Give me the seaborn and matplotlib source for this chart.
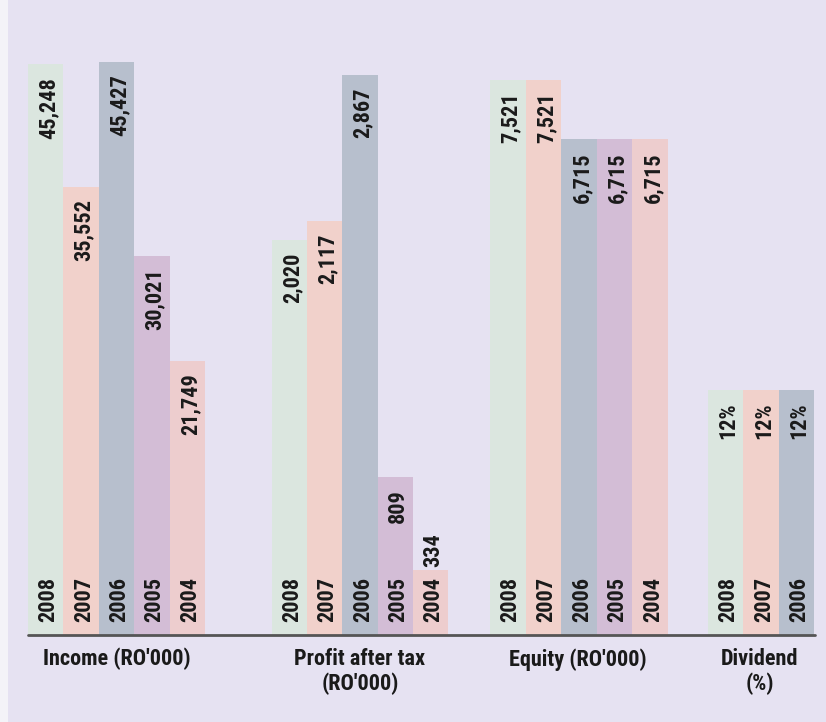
import numpy as np
import pandas as pd
import seaborn as sns
import matplotlib.pyplot as plt

# data
years = ["2008", "2007", "2006", "2005", "2004"]
income = [45248, 35552, 45427, 30021, 21749]
profit = [2020, 2117, 2867, 809, 334]
equity = [7521, 7521, 6715, 6715, 6715]
dividend_years = ["2008", "2007", "2006"]
dividend = [12, 12, 12]

income_labels = ["45,248", "35,552", "45,427", "30,021", "21,749"]
profit_labels = ["2,020", "2,117", "2,867", "809", "334"]
equity_labels = ["7,521", "7,521", "6,715", "6,715", "6,715"]
dividend_labels = ["12%", "12%", "12%"]

group_titles = ["Income (RO'000)", "Profit after tax\n(RO'000)", "Equity (RO'000)", "Dividend\n(%)"]

year_colors = {"2008": "#dbe6df", "2007": "#f1d1cb", "2006": "#b7bfcd",
               "2005": "#d3bdd6", "2004": "#edcdce"}
bg = "#e6e2f2"

sns.set_theme(style="white")
plt.rcParams["font.family"] = ["Roboto Condensed", "Barlow Condensed", "DejaVu Sans"]

W, H = 826, 722
fig = plt.figure(figsize=(W / 100, H / 100), dpi=100, facecolor=bg)

# white page margin on the left of the scan
fig.add_artist(plt.Rectangle((0, 0), 8 / W, 1, transform=fig.transFigure,
                             facecolor="#f4f3f8", edgecolor="none"))

base_px = 635
top_px = 62
groups = [
    # left px, width px, values, labels, years, y max
    (28, 177, income, income_labels, years, 45427),
    (272, 176, profit, profit_labels, years, 2867 * 573 / 560),
    (490, 178, equity, equity_labels, years, 7521 * 573 / 555),
    (708, 106, dividend, dividend_labels, dividend_years, 12 * 573 / 245),
]
title_x = [117, 360, 578, 760]
fs = 16

for (left, width, vals, labs, yrs, ymax), title, tx in zip(groups, group_titles, title_x):
    ax = fig.add_axes([left / W, (H - base_px) / H, width / W, (base_px - top_px) / H])
    df = pd.DataFrame({"year": yrs, "value": vals})
    sns.barplot(data=df, x="year", y="value", hue="year", palette=year_colors,
                width=1.0, legend=False, ax=ax, linewidth=0, saturation=1)
    ax.set_xlim(-0.5, len(yrs) - 0.5)
    ax.set_ylim(0, ymax)
    ax.set_facecolor("none")
    ax.set_axis_off()
    for i, (v, lab, yr) in enumerate(zip(vals, labs, yrs)):
        # value label near the top of the bar, above it when the bar is short
        if v / ymax < 0.15:
            ax.annotate(lab, (i, v), xytext=(2, 2), textcoords="offset points",
                        rotation=90, ha="center", va="bottom", fontsize=fs, fontweight="bold",
                        color="#1a1a1a")
        else:
            ax.annotate(lab, (i, v), xytext=(2, -9), textcoords="offset points",
                        rotation=90, ha="center", va="top", fontsize=fs, fontweight="bold",
                        color="#1a1a1a")
        ax.annotate(yr, (i, 0), xytext=(2, 9), textcoords="offset points",
                    rotation=90, ha="center", va="bottom", fontsize=fs, fontweight="bold",
                    color="#1a1a1a")
    fig.text(tx / W, 1 - 648 / H, title, ha="center", va="top", fontsize=16,
             fontweight="bold", color="#1a1a1a", linespacing=1.15)

# baseline across all groups
fig.add_artist(plt.Line2D([28 / W, 815 / W], [1 - base_px / H] * 2, color="#555555", lw=2))

fig.savefig("out.png", dpi=100, facecolor=bg)
